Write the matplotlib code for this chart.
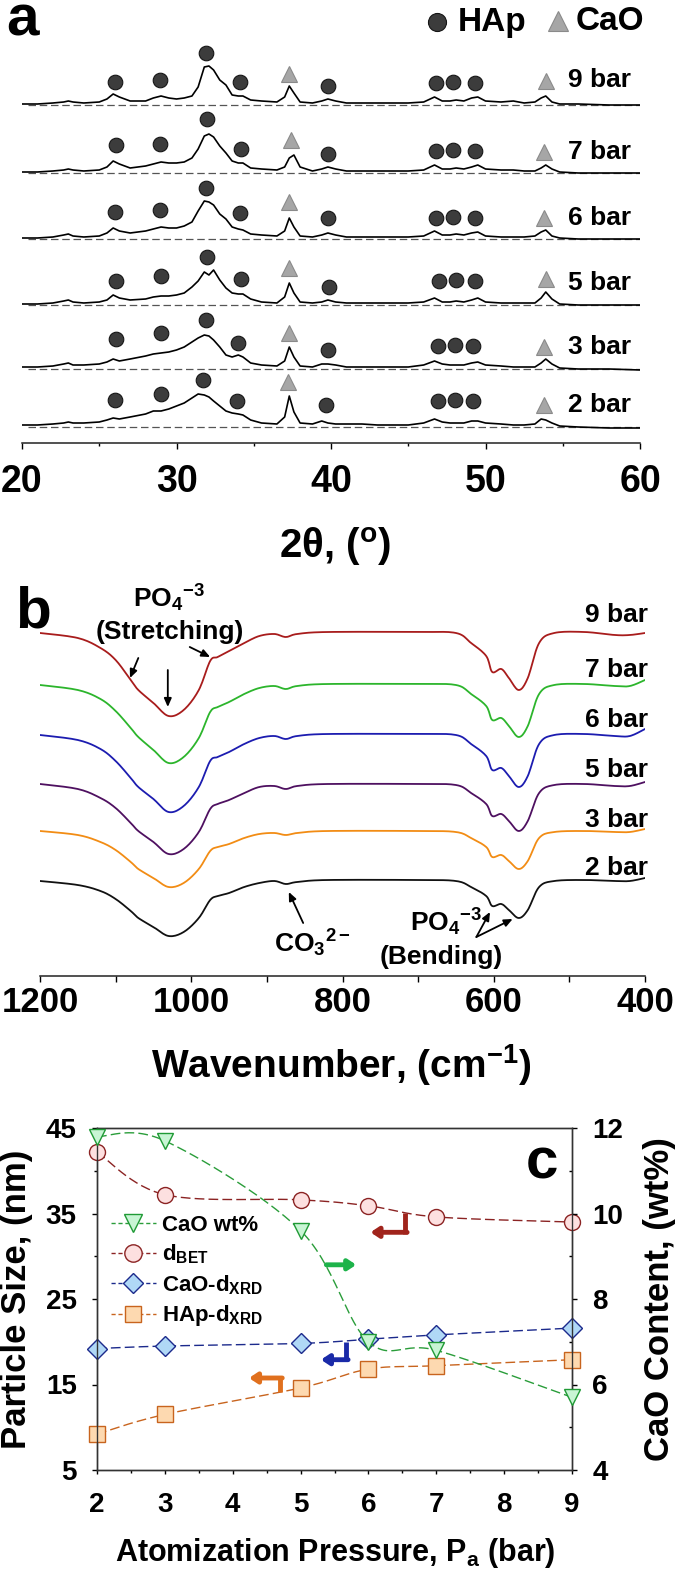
import numpy as np
import matplotlib
matplotlib.use("Agg")
import matplotlib.pyplot as plt
from matplotlib import font_manager as fm
from matplotlib.lines import Line2D


def _has(name):
    try:
        fm.findfont(fm.FontProperties(family=name), fallback_to_default=False)
        return True
    except Exception:
        return False


REG = 'Liberation Sans' if _has('Liberation Sans') else 'DejaVu Sans'
NAR = 'Liberation Sans Narrow' if _has('Liberation Sans Narrow') else REG

plt.rcParams['font.family'] = [REG, 'DejaVu Sans']
plt.rcParams['font.weight'] = 'bold'
plt.rcParams['mathtext.fontset'] = 'custom'
plt.rcParams['mathtext.rm'] = REG + ':bold'
plt.rcParams['mathtext.bf'] = REG + ':bold'
plt.rcParams['mathtext.it'] = REG + ':bold'
plt.rcParams['mathtext.default'] = 'rm'

# ------------------------------------------------------------------ data
pressures = ['9 bar', '7 bar', '6 bar', '5 bar', '3 bar', '2 bar']

# (a) XRD patterns: 2-theta grid and intensity above each baseline
two_theta = [20, 21, 22, 22.7, 23.0, 23.3, 24, 25, 25.5, 25.9, 26.3, 27, 28, 28.5, 29, 29.5,
             30, 30.5, 31, 31.4, 31.8, 32.1, 32.4, 32.8, 33.2, 33.6, 34.0, 34.3, 34.8, 35.5,
             36.5, 37.0, 37.3, 37.6, 38.0, 38.8, 39.4, 39.8, 40.3, 41, 42, 43, 44, 45, 46,
             46.7, 47.2, 47.7, 48.1, 48.6, 49.1, 49.5, 50, 51, 51.8, 52.5, 53.2, 53.6, 53.9,
             54.3, 54.8, 56, 58, 60]
xrd_9bar = [1, 1, 2, 3, 4, 3, 2, 3, 6, 11, 8, 4, 4, 7, 9, 7, 6, 7, 9, 18, 38, 39, 35, 25, 20, 10,
            9, 9, 5, 4, 3, 8, 19, 12, 3, 2, 4, 6, 4, 2, 2, 2, 2, 2, 3, 8, 4, 4, 5, 4, 7, 8, 4, 3,
            4, 2, 3, 7, 9, 3, 1, 1, 0, 0]
xrd_7bar = [1, 1, 2, 3, 4, 3, 2, 3, 6, 12, 9, 5, 7, 9, 11, 10, 10, 11, 15, 24, 37, 39, 36, 27, 20,
            12, 10, 10, 5, 4, 3, 6, 15, 18, 6, 2, 4, 6, 4, 2, 2, 2, 2, 2, 3, 8, 4, 4, 5, 4, 6, 8,
            4, 3, 3, 2, 2, 5, 8, 4, 1, 0, 0, 0]
xrd_6bar = [1, 1, 2, 4, 5, 3, 2, 3, 6, 11, 8, 6, 8, 10, 12, 11, 11, 13, 17, 28, 38, 37, 34, 25, 20,
            12, 10, 9, 5, 4, 3, 8, 21, 12, 3, 2, 4, 6, 4, 2, 2, 2, 2, 2, 3, 8, 4, 4, 5, 4, 6, 7, 3,
            2, 2, 2, 3, 7, 9, 3, 1, 0, 0, 0]
xrd_5bar = [1, 1, 2, 4, 5, 3, 2, 3, 5, 10, 7, 5, 6, 8, 9, 9, 10, 12, 18, 24, 33, 30, 35, 25, 17, 12,
            11, 11, 6, 3, 2, 8, 22, 12, 3, 2, 3, 5, 3, 2, 2, 2, 2, 2, 3, 7, 3, 3, 4, 3, 5, 7, 3, 2,
            2, 2, 2, 7, 13, 6, 1, 0, 0, 0]
xrd_3bar = [2, 2, 3, 5, 6, 4, 4, 5, 7, 10, 8, 10, 13, 15, 16, 17, 19, 22, 27, 31, 34, 33, 29, 22,
            14, 12, 14, 12, 6, 4, 3, 8, 22, 12, 3, 2, 5, 5, 4, 2, 2, 2, 2, 2, 4, 8, 5, 4, 4, 4, 6,
            7, 4, 3, 2, 2, 2, 6, 10, 5, 1, 0, 0, -1]
xrd_2bar = [2, 2, 3, 4, 5, 4, 4, 5, 7, 9, 8, 10, 13, 16, 16, 18, 21, 24, 29, 33, 32, 30, 26, 21, 16,
            14, 13, 12, 7, 4, 3, 10, 31, 15, 4, 3, 6, 4, 3, 3, 3, 2, 2, 2, 4, 8, 5, 4, 4, 4, 6, 6,
            4, 3, 2, 2, 3, 8, 7, 4, 1, 0, -1, -1]
xrd_patterns = [xrd_9bar, xrd_7bar, xrd_6bar, xrd_5bar, xrd_3bar, xrd_2bar]

# phase markers (2-theta and height above baseline)
hap_theta = [[26.0, 28.9, 31.9, 34.1, 39.8, 46.8, 47.9, 49.3],
             [26.1, 28.9, 32.0, 34.2, 39.8, 46.8, 47.9, 49.3],
             [26.0, 28.9, 31.9, 34.1, 39.8, 46.8, 47.9, 49.3],
             [26.1, 29.0, 32.0, 34.2, 39.9, 47.0, 48.1, 49.3],
             [26.1, 29.0, 31.9, 34.0, 39.8, 46.9, 48.0, 49.2],
             [26.0, 29.0, 31.7, 33.9, 39.7, 46.9, 48.0, 49.2]]
hap_height = [[23, 25, 52, 23, 19, 22, 23, 22],
              [28, 29, 54, 24, 19, 22, 23, 22],
              [27, 29, 51, 26, 21, 21, 22, 21],
              [24, 29, 48, 26, 18, 24, 25, 24],
              [30, 36, 49, 26, 19, 23, 24, 23],
              [27, 33, 47, 26, 22, 26, 27, 26]]
cao_theta = [[37.3, 53.9], [37.4, 53.8], [37.3, 53.8], [37.3, 53.9], [37.3, 53.8], [37.2, 53.8]]
cao_height = [[31, 24], [33, 21], [37, 21], [37, 26], [36, 22], [45, 22]]

# (b) FTIR spectra: wavenumber grid and band depth below each flat level
wavenumber = [1200, 1150, 1120, 1100, 1080, 1070, 1050, 1030, 1010, 990, 975, 965, 950, 930, 910,
              890, 875, 860, 820, 700, 650, 630, 610, 602, 590, 580, 567, 555, 540, 520, 480, 440,
              420, 400]
ftir_9bar = [1, 6, 16, 28, 48, 58, 71, 84, 78, 58, 29, 25, 19, 11, 4, 2, 5, 2, 0, 0, 1, 11, 24, 40,
             37, 46, 58, 46, 11, 1, 0, 3, 3, 1]
ftir_7bar = [1, 6, 15, 27, 44, 53, 66, 79, 73, 54, 28, 23, 18, 10, 4, 2, 5, 2, 0, 0, 1, 10, 22, 36,
             34, 42, 53, 42, 10, 1, 0, 2, 2, -4]
ftir_6bar = [1, 6, 15, 27, 44, 53, 65, 78, 72, 53, 27, 23, 18, 10, 4, 2, 5, 2, 0, 0, 1, 10, 22, 36,
             34, 42, 53, 42, 10, 1, 0, 2, 2, -5]
ftir_5bar = [0, 5, 14, 24, 39, 47, 58, 70, 65, 48, 25, 20, 16, 9, 3, 2, 5, 2, 0, 0, 1, 9, 20, 32,
             30, 37, 47, 37, 9, 1, 0, 2, 2, -2]
ftir_3bar = [0, 4, 11, 19, 31, 38, 47, 56, 52, 38, 20, 16, 13, 7, 3, 2, 4, 2, 0, 0, 1, 7, 16, 26,
             24, 30, 38, 30, 7, 1, 0, 1, 1, -2]
ftir_2bar = [1, 5, 11, 19, 31, 38, 47, 56, 52, 38, 20, 16, 13, 7, 3, 1, 4, 2, 0, 0, 1, 7, 16, 26,
             24, 30, 38, 30, 7, 1, 0, 1, 1, -2]
ftir_spectra = [ftir_9bar, ftir_7bar, ftir_6bar, ftir_5bar, ftir_3bar, ftir_2bar]
ftir_colors = ['#a81c1c', '#2cb52c', '#1c1cb0', '#4e1060', '#f28c14', '#111111']

# (c) particle size / CaO content vs atomization pressure
pressure_bar = [2, 3, 5, 6, 7, 9]
cao_wt = [11.8, 11.7, 9.6, 7.0, 6.8, 5.7]
d_bet = [42.2, 37.2, 36.6, 35.9, 34.6, 34.0]
cao_dxrd = [19.2, 19.5, 19.8, 20.3, 20.8, 21.6]
hap_dxrd = [9.2, 11.5, 14.6, 16.8, 17.2, 17.9]

# ------------------------------------------------------------------ layout helpers
W, H = 675, 1576
fig = plt.figure(figsize=(W / 100, H / 100), dpi=100)


def fx(px):
    return px / W


def fy(py):
    return 1 - py / H


def box(x0, y0, x1, y1):
    return [x0 / W, 1 - y1 / H, (x1 - x0) / W, (y1 - y0) / H]


def smooth(x, y, n=30):
    """Smoothed line drawn through the points (cubic Bezier, Excel style)."""
    x = np.asarray(x, float)
    y = np.asarray(y, float)
    P = np.column_stack([x, y])
    P = np.vstack([P[0], P, P[-1]])
    out = []
    t = np.linspace(0, 1, n)[:, None]
    for i in range(len(x) - 1):
        p0, p1, p2, p3 = P[i], P[i + 1], P[i + 2], P[i + 3]
        c1 = p1 + (p2 - p0) / 6.0
        c2 = p2 - (p3 - p1) / 6.0
        seg = ((1 - t) ** 3) * p1 + 3 * ((1 - t) ** 2) * t * c1 + 3 * (1 - t) * t ** 2 * c2 + t ** 3 * p2
        out.append(seg if i == 0 else seg[1:])
    out = np.vstack(out)
    return out[:, 0], out[:, 1]


# ------------------------------------------------------------------ panel a
axa = fig.add_axes(box(22, 0, 640, 443))
axa.set_xlim(20, 60)
axa.set_ylim(0, 443)
base_px_a = [105, 173, 239, 305, 369, 427]
label_px_a = [80, 152, 218, 283, 347, 405]
for i, name in enumerate(pressures):
    b = 443 - base_px_a[i]
    axa.plot([20.4, 60], [b, b], ls=(0, (6, 3)), color='#555555', lw=0.9)
    axa.plot(two_theta, b + np.array(xrd_patterns[i]), color='black', lw=1.2)
    axa.plot(hap_theta[i], b + np.array(hap_height[i]), 'o', ms=10.5, mfc='#3c3c3c',
             mec='#151515', mew=0.8, clip_on=False)
    axa.plot(cao_theta[i], b + np.array(cao_height[i]), '^', ms=11.5, mfc='#a6a6a6',
             mec='#8a8a8a', mew=0.8, clip_on=False)
    axa.text(59.4, 443 - label_px_a[i], name, ha='right', va='center', fontsize=19)
for s in ['left', 'right', 'top']:
    axa.spines[s].set_visible(False)
axa.spines['bottom'].set_linewidth(1.1)
axa.spines['bottom'].set_color('#222222')
axa.set_yticks([])
axa.set_xticks([20, 30, 40, 50, 60])
axa.set_xticklabels(['20', '30', '40', '50', '60'], fontsize=27, family=NAR)
axa.set_xticks([25, 35, 45, 55], minor=True)
axa.tick_params(axis='x', which='major', direction='out', length=4.3, width=1, pad=11)
axa.tick_params(axis='x', which='minor', direction='out', length=2.2, width=1)
axa.patch.set_alpha(0)

fig.text(fx(6), fy(36), 'a', fontsize=42, family=NAR, ha='left', va='baseline')
fig.add_artist(Line2D([fx(437)], [fy(22)], transform=fig.transFigure, marker='o', ms=13,
                      mfc='#3c3c3c', mec='#151515', mew=0.8, ls='none'))
fig.text(fx(458), fy(22), 'HAp', fontsize=24, ha='left', va='center')
fig.add_artist(Line2D([fx(558)], [fy(21)], transform=fig.transFigure, marker='^', ms=14,
                      mfc='#a6a6a6', mec='#8a8a8a', mew=0.8, ls='none'))
fig.text(fx(576), fy(22), 'CaO', fontsize=24, ha='left', va='center')
fig.text(fx(335), fy(547), '2θ, ($^{o}$)', fontsize=29, ha='center', va='center')

# ------------------------------------------------------------------ panel b
axb = fig.add_axes(box(40, 560, 645, 976))
axb.set_xlim(1200, 400)
axb.set_ylim(0, 416)
flat_px_b = [632, 684, 734, 784, 831, 880]
label_px_b = [615, 670, 720, 770, 820, 868]
for i, name in enumerate(pressures):
    b = 976 - flat_px_b[i]
    sx, sy = smooth(wavenumber, b - np.array(ftir_spectra[i]), n=12)
    axb.plot(sx, sy, color=ftir_colors[i], lw=1.3)
    axb.text(396, 976 - label_px_b[i], name, ha='right', va='center', fontsize=19)
for s in ['left', 'right', 'top']:
    axb.spines[s].set_visible(False)
axb.spines['bottom'].set_linewidth(1.1)
axb.spines['bottom'].set_color('#222222')
axb.set_yticks([])
axb.set_xticks([1200, 1000, 800, 600, 400])
axb.set_xticklabels(['1200', '1000', '800', '600', '400'], fontsize=25, family=NAR)
axb.set_xticks([1100, 900, 700, 500], minor=True)
axb.tick_params(axis='x', which='both', direction='out', length=4.3, width=1, pad=3)
axb.patch.set_alpha(0)

arr = dict(arrowstyle='-|>,head_length=0.5,head_width=0.22', color='black', lw=1.3,
           shrinkA=0, shrinkB=0)
axb.text(1029, 976 - 598, 'PO$_4$$^{-3}$', ha='center', va='center', fontsize=19)
axb.text(1029, 976 - 632, '(Stretching)', ha='center', va='center', fontsize=19)
axb.annotate('', xy=(1081, 976 - 678), xytext=(1070, 976 - 658), arrowprops=arr)
axb.annotate('', xy=(1031, 976 - 707), xytext=(1031, 976 - 670), arrowprops=arr)
axb.annotate('', xy=(975, 976 - 657), xytext=(1002, 976 - 647), arrowprops=arr)
axb.text(840, 976 - 943, 'CO$_3$$^{2-}$', ha='center', va='center', fontsize=19)
axb.annotate('', xy=(871, 976 - 892), xytext=(852, 976 - 923), arrowprops=arr)
axb.text(663, 976 - 922, 'PO$_4$$^{-3}$', ha='center', va='center', fontsize=19)
axb.text(670, 976 - 957, '(Bending)', ha='center', va='center', fontsize=19)
axb.annotate('', xy=(605, 976 - 912), xytext=(623, 976 - 937), arrowprops=arr)
axb.annotate('', xy=(575, 976 - 919), xytext=(623, 976 - 937), arrowprops=arr)

fig.text(fx(15), fy(627), 'b', fontsize=42, family=NAR, ha='left', va='baseline')
fig.text(fx(341), fy(1065), 'Wavenumber, (cm$^{-1}$)', fontsize=28, ha='center', va='center')

# ------------------------------------------------------------------ panel c
axc = fig.add_axes(box(97, 1128, 572, 1470))
ax2 = axc.twinx()
axc.set_xlim(2, 9)
axc.set_ylim(5, 45)
ax2.set_ylim(4, 12)

dash = (0, (7, 3))
series_left = [
    (d_bet, 'o', '#8b2323', '#fde0e0', '#8b2323', 11.5),
    (cao_dxrd, 'D', '#1c2a8c', '#b0d8f6', '#1c2a8c', 10),
    (hap_dxrd, 's', '#c8641e', '#fdd9b0', '#c8641e', 11),
]
for vals, mk, lc, fc, ec, ms in series_left:
    sx, sy = smooth(pressure_bar, vals)
    axc.plot(sx, sy, ls=dash, color=lc, lw=1.0, zorder=2)
    axc.plot(pressure_bar, vals, mk, ms=ms, mfc=fc, mec=ec, mew=1.0, clip_on=False, zorder=3)
sx, sy = smooth(pressure_bar, cao_wt)
ax2.plot(sx, sy, ls=dash, color='#2a9d3a', lw=1.0, zorder=2)
ax2.plot(pressure_bar, cao_wt, 'v', ms=11.5, mfc='#c8f5d4', mec='#1f9a35', mew=1.0,
         clip_on=False, zorder=3)


def bent_arrow(ax, x_v, y_top, y_bot, x_tip, y_h, color):
    ax.plot([x_v, x_v], [y_top, y_bot], color=color, lw=3.5, solid_capstyle='butt', zorder=4)
    ax.annotate('', xy=(x_tip, y_h), xytext=(x_v + 0.03, y_h),
                arrowprops=dict(arrowstyle='-|>,head_length=0.45,head_width=0.3', color=color,
                                lw=3.5, shrinkA=0, shrinkB=0), zorder=4)


bent_arrow(axc, 6.54, 35.1, 32.6, 6.03, 32.8, '#a0241c')
bent_arrow(axc, 5.67, 20.0, 17.7, 5.30, 17.9, '#1a2aa8')
bent_arrow(axc, 4.70, 14.1, 15.95, 4.24, 15.76, '#e0701e')
axc.annotate('', xy=(5.82, 29.0), xytext=(5.38, 29.0),
             arrowprops=dict(arrowstyle='-|>,head_length=0.45,head_width=0.3', color='#1db34a',
                             lw=3.5, shrinkA=0, shrinkB=0))

axc.text(8.56, 39.15, 'c', fontsize=42, ha='center', va='baseline')

axc.set_xticks(range(2, 10))
axc.set_xticklabels([str(v) for v in range(2, 10)], fontsize=20)
axc.set_xticks(np.arange(2.5, 9, 1.0), minor=True)
axc.set_yticks([5, 15, 25, 35, 45])
axc.set_yticklabels(['5', '15', '25', '35', '45'], fontsize=20)
axc.set_yticks([10, 20, 30, 40], minor=True)
ax2.set_yticks([4, 6, 8, 10, 12])
ax2.set_yticklabels(['4', '6', '8', '10', '12'], fontsize=20)
ax2.set_yticks([5, 7, 9, 11], minor=True)
axc.tick_params(axis='x', which='major', direction='out', length=3, width=1, pad=13)
axc.tick_params(axis='x', which='minor', direction='out', length=2, width=1)
axc.tick_params(axis='y', which='major', direction='out', length=3.6, width=1, pad=11)
axc.tick_params(axis='y', which='minor', direction='out', length=2, width=1)
ax2.tick_params(axis='y', which='major', direction='out', length=3.6, width=1, pad=11)
ax2.tick_params(axis='y', which='minor', direction='in', length=2.5, width=1)
for a in (axc, ax2):
    for s in a.spines.values():
        s.set_linewidth(1.0)
        s.set_color('#333333')

handles = [
    Line2D([], [], ls=(0, (3, 2)), color='#2a9d3a', lw=1.0, marker='v', ms=12.5, mfc='#c8f5d4',
           mec='#1f9a35'),
    Line2D([], [], ls=(0, (3, 2)), color='#8b2323', lw=1.0, marker='o', ms=12.5, mfc='#fde0e0',
           mec='#8b2323'),
    Line2D([], [], ls=(0, (3, 2)), color='#1c2a8c', lw=1.0, marker='D', ms=10.5, mfc='#b0d8f6',
           mec='#1c2a8c'),
    Line2D([], [], ls=(0, (3, 2)), color='#c8641e', lw=1.0, marker='s', ms=11.5, mfc='#fdd9b0',
           mec='#c8641e'),
]
labels = ['CaO wt%', 'd$_{BET}$', 'CaO-d$_{XRD}$', 'HAp-d$_{XRD}$']
ax2.legend(handles, labels, loc='upper left', bbox_to_anchor=(0.03, 0.745), frameon=False,
           fontsize=16, handlelength=2.0, handletextpad=0.3, labelspacing=0.3,
           borderaxespad=0, borderpad=0)

fig.text(fx(17), fy(1299), 'Particle Size, (nm)', rotation=90, fontsize=25, ha='center',
         va='center')
fig.text(fx(659), fy(1299), 'CaO Content, (wt%)', rotation=90, fontsize=25, ha='center',
         va='center')
fig.text(fx(335), fy(1553), 'Atomization Pressure, P$_a$ (bar)', fontsize=22, ha='center',
         va='center')

fig.savefig('out.png', dpi=100)
